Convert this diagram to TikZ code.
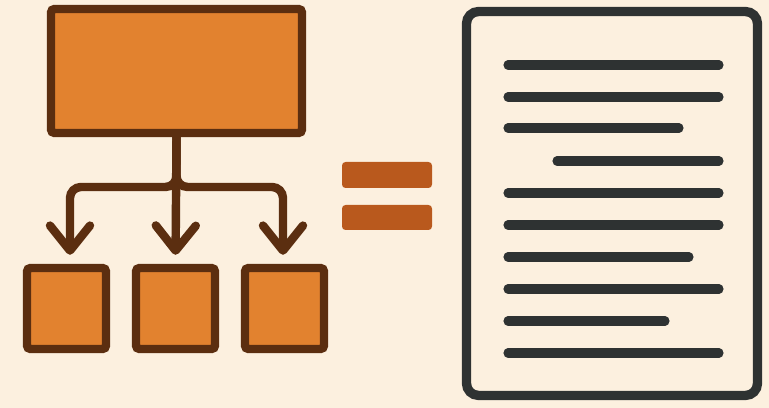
\documentclass[tikz,border=0pt]{standalone}
\usepackage{tikz}
\usetikzlibrary{arrows.meta}
\usepackage{xcolor}
\definecolor{bg}{HTML}{FCF0DF}
\definecolor{o1}{HTML}{E2822F}
\definecolor{br}{HTML}{5B2E10}
\definecolor{o2}{HTML}{B9591D}
\definecolor{g2}{HTML}{2E3232}
\tikzset{>={Straight Barb[length=0.5cm,width=0.8cm,line cap=round,line join=round]}}
\tikzstyle{box}=[draw=br,fill=o1,line width=4.8pt,rounded corners=2pt,inner sep=0pt]
\tikzstyle{link}=[->,draw=br,line width=4.8pt,rounded corners=0.22cm,shorten >=0.18cm]
\tikzstyle{bar}=[fill=o2,rounded corners=2pt]
\tikzstyle{txt}=[g2,line width=5.2pt,line cap=round]

\begin{document}
\begin{tikzpicture}[x=0.02cm,y=-0.02cm]
  \fill[bg] (0,0) rectangle (769,408);
  \node[box,minimum width=5.02cm,minimum height=2.48cm] (top) at (176.5,71) {};
  \node[box,minimum width=1.58cm,minimum height=1.62cm] (c1) at (66.5,308.5) {};
  \node[box,minimum width=1.58cm,minimum height=1.62cm] (c2) at (175.5,308.5) {};
  \node[box,minimum width=1.58cm,minimum height=1.62cm] (c3) at (284.5,308.5) {};
  \draw[link] (top.south) -- (176.5,187) -| ([xshift=0.07cm]c1.north);
  \draw[link] (top.south) -- (176.5,187) -| ([xshift=-0.03cm]c3.north);
  \draw[link] (top.south) -- (c2.north);
  \fill[bar] (342,162) rectangle (432,188);
  \fill[bar] (342,205) rectangle (432,230);
  \node[draw=g2,line width=5.3pt,rounded corners=0.24cm,inner sep=0pt,
        minimum width=5.82cm,minimum height=7.68cm] (doc) at (612,203.5) {};
  \foreach \y/\a/\b in {65/508/719, 97/508/719, 128/508/679, 161/557/719,
                        193/508/719, 225/508/719, 257/508/689, 289/508/719,
                        321/508/665, 353/508/719}
    \draw[txt] (\a,\y) -- (\b,\y);
\end{tikzpicture}
\end{document}
